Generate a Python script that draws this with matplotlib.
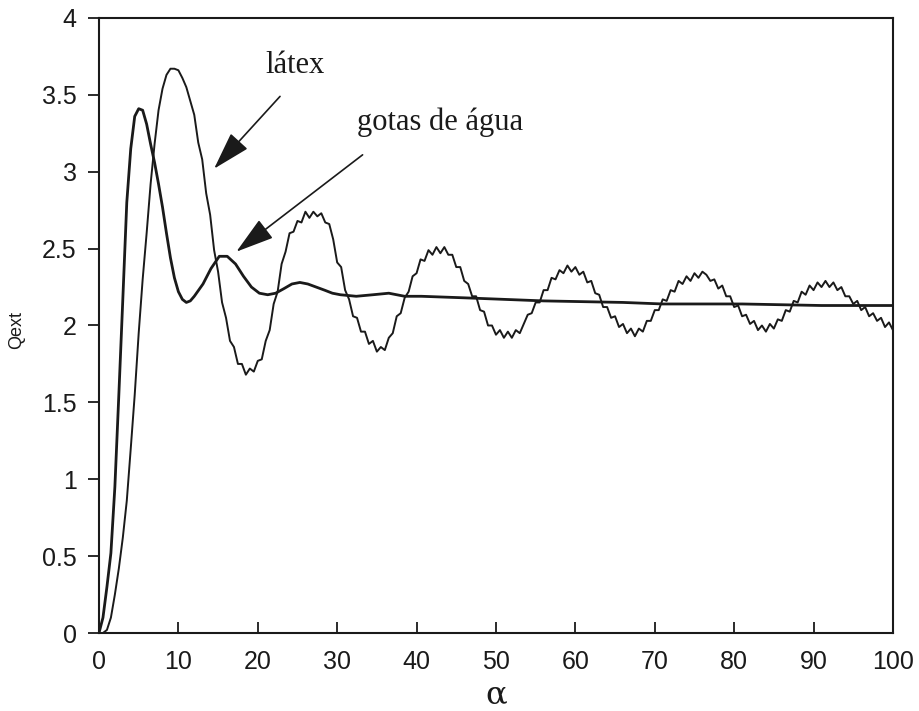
import matplotlib
matplotlib.use('Agg')
import matplotlib.pyplot as plt
import numpy as np

# smooth curve (first peak near alpha=5)
alpha_a = [0, 0.5, 1.0, 1.5, 2.0, 2.5, 3.0, 3.5, 4.0, 4.5, 5.0, 5.5, 6.0, 6.5, 7.0, 7.5,
           8.0, 8.5, 9.0, 9.5, 10, 10.5, 11, 11.5, 12, 13.1, 14.1, 15.15, 16.15, 17.2,
           18.2, 19.2, 20.2, 21.25, 22.25, 23.3, 24.3, 25.3, 26.3, 27.35, 28.4, 29.4,
           30.4, 32.4, 34.5, 36.5, 38.5, 40.6, 46, 51, 56, 61, 66, 71, 76, 81, 86, 91,
           96, 100]
q_a = [0, 0.10, 0.30, 0.52, 0.95, 1.55, 2.17, 2.80, 3.15, 3.36, 3.41, 3.40, 3.31, 3.18,
       3.06, 2.92, 2.77, 2.60, 2.44, 2.31, 2.22, 2.17, 2.15, 2.16, 2.19, 2.27, 2.37, 2.45,
       2.45, 2.40, 2.32, 2.25, 2.21, 2.20, 2.21, 2.24, 2.27, 2.28, 2.27, 2.25, 2.23, 2.21,
       2.20, 2.19, 2.20, 2.21, 2.19, 2.19, 2.18, 2.17, 2.16, 2.155, 2.15, 2.14, 2.14,
       2.14, 2.135, 2.13, 2.13, 2.13]

# rippled curve, sampled every 0.5 in alpha from 0 to 100
alpha_b = np.arange(0, 100.5, 0.5)
q_b = [
    # 0 - 9.5
    0.00, 0.00, 0.02, 0.10, 0.25, 0.42, 0.62, 0.86, 1.20, 1.55,
    1.95, 2.30, 2.60, 2.92, 3.18, 3.40, 3.54, 3.63, 3.67, 3.67,
    # 10 - 19.5
    3.66, 3.61, 3.55, 3.46, 3.37, 3.19, 3.08, 2.86, 2.72, 2.49,
    2.35, 2.15, 2.05, 1.90, 1.86, 1.75, 1.75, 1.68, 1.72, 1.70,
    # 20 - 29.5
    1.77, 1.78, 1.90, 1.97, 2.14, 2.22, 2.40, 2.48, 2.60, 2.61,
    2.68, 2.67, 2.74, 2.70, 2.74, 2.71, 2.73, 2.67, 2.66, 2.56,
    # 30 - 39.5
    2.41, 2.38, 2.23, 2.17, 2.06, 2.05, 1.96, 1.96, 1.88, 1.90,
    1.83, 1.86, 1.84, 1.92, 1.95, 2.06, 2.08, 2.18, 2.22, 2.32,
    # 40 - 49.5
    2.34, 2.43, 2.42, 2.49, 2.46, 2.51, 2.47, 2.51, 2.46, 2.46,
    2.38, 2.38, 2.29, 2.27, 2.19, 2.19, 2.10, 2.09, 2.00, 2.00,
    # 50 - 59.5
    1.94, 1.97, 1.92, 1.96, 1.92, 1.97, 1.95, 2.01, 2.07, 2.08,
    2.15, 2.15, 2.23, 2.23, 2.31, 2.30, 2.36, 2.34, 2.39, 2.35,
    # 60 - 69.5
    2.38, 2.33, 2.35, 2.28, 2.29, 2.21, 2.20, 2.12, 2.12, 2.05,
    2.06, 1.99, 2.01, 1.95, 1.98, 1.93, 1.98, 1.96, 2.03, 2.03,
    # 70 - 79.5
    2.10, 2.10, 2.17, 2.16, 2.23, 2.22, 2.29, 2.27, 2.32, 2.29,
    2.34, 2.31, 2.35, 2.33, 2.29, 2.30, 2.24, 2.26, 2.19, 2.19,
    # 80 - 89.5
    2.12, 2.13, 2.06, 2.07, 2.01, 2.03, 1.97, 2.00, 1.96, 2.01,
    1.98, 2.04, 2.03, 2.10, 2.09, 2.16, 2.15, 2.22, 2.20, 2.26,
    # 90 - 100
    2.23, 2.28, 2.25, 2.29, 2.25, 2.28, 2.23, 2.25, 2.19, 2.19,
    2.14, 2.16, 2.10, 2.12, 2.06, 2.08, 2.03, 2.05, 1.99, 2.02,
    1.97,
]

x_ticks = [0, 10, 20, 30, 40, 50, 60, 70, 80, 90, 100]
y_ticks = [0, 0.5, 1, 1.5, 2, 2.5, 3, 3.5, 4]
y_ticklabels = ['0', '0.5', '1', '1.5', '2', '2.5', '3', '3.5', '4']

ink = '#1a1a1a'
fig = plt.figure(figsize=(9.2, 7.11), dpi=100)
ax = fig.add_axes([0.1076, 0.1097, 0.863, 0.865])

ax.plot(alpha_a, q_a, color=ink, lw=2.0)
ax.plot(alpha_b, q_b, color=ink, lw=1.4)

ax.set_xlim(0, 100)
ax.set_ylim(0, 4)
ax.set_xticks(x_ticks)
ax.set_yticks(y_ticks)
ax.set_yticklabels(y_ticklabels)

for s in ax.spines.values():
    s.set_linewidth(1.5)
    s.set_color(ink)
ax.tick_params(axis='x', direction='in', length=8, width=1.3, pad=12,
               labelsize=18, colors=ink)
ax.tick_params(axis='y', direction='out', length=8, width=1.3, pad=8,
               labelsize=18, colors=ink)
for lab in ax.get_xticklabels() + ax.get_yticklabels():
    lab.set_family('Liberation Sans')

fig.text(17 / 920, 1 - 330 / 711, 'Qext', rotation=90, fontsize=13,
         family='Liberation Sans', ha='center', va='center', color=ink)
fig.text(496 / 920, 1 - 695 / 711, 'α', fontsize=23, family='DejaVu Serif',
         ha='center', va='center', color=ink)

# labels with arrows
ax.text(20.9, 3.64, 'látex', fontsize=22, family='Liberation Serif',
        ha='left', va='baseline', color=ink)
ax.text(32.5, 3.27, 'gotas de água', fontsize=22, family='Liberation Serif',
        ha='left', va='baseline', color=ink)
arrow_style = dict(arrowstyle='-|>,head_length=0.6,head_width=0.18', color=ink,
                   lw=1.2, mutation_scale=40, shrinkA=0, shrinkB=0)
ax.annotate('', xy=(14.5, 3.02), xytext=(22.8, 3.49), arrowprops=arrow_style)
ax.annotate('', xy=(17.3, 2.48), xytext=(33.2, 3.11), arrowprops=arrow_style)

fig.savefig('out.png', dpi=100)
